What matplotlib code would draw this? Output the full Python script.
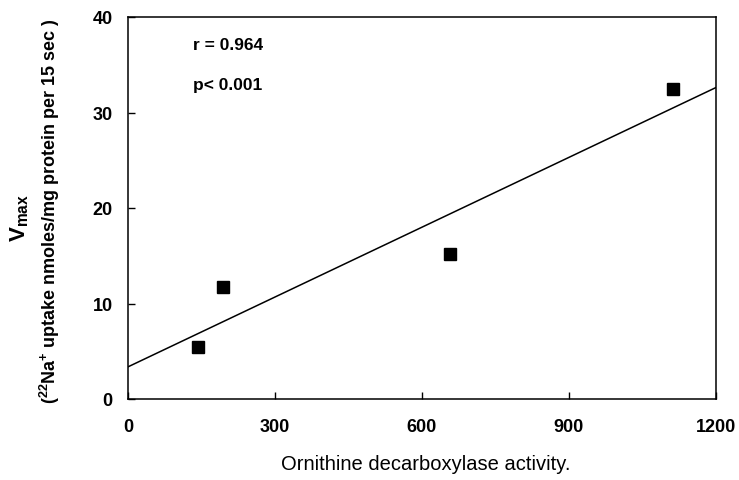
import numpy as np
import matplotlib
matplotlib.use("Agg")
import matplotlib.pyplot as plt

odc_activity = [143, 194, 657, 1112]
vmax_values = [5.4, 11.7, 15.2, 32.5]
x_ticks = [0, 300, 600, 900, 1200]
y_ticks = [0, 10, 20, 30, 40]

plt.rcParams['font.family'] = ['Liberation Sans', 'DejaVu Sans']
plt.rcParams['mathtext.fontset'] = 'custom'
plt.rcParams['mathtext.rm'] = 'Liberation Sans'
plt.rcParams['mathtext.bf'] = 'Liberation Sans:bold'

fig = plt.figure(figsize=(7.39, 4.81), dpi=100)
ax = fig.add_axes([128/739, 1-400/481, (716-128)/739, (400-18)/481])

slope, intercept = np.polyfit(odc_activity, vmax_values, 1)
xl = np.array([0, 1200])
ax.plot(xl, intercept + slope*xl, color='black', lw=1.1)
ax.plot(odc_activity, vmax_values, 's', color='black', ms=8)

ax.set_xlim(0, 1200)
ax.set_ylim(0, 40)
ax.set_xticks(x_ticks)
ax.set_yticks(y_ticks)
ax.tick_params(direction='in', length=5, width=1, labelsize=13)
ax.tick_params(axis='x', pad=14)
ax.tick_params(axis='y', pad=11)
for lab in ax.get_xticklabels() + ax.get_yticklabels():
    lab.set_fontweight('bold')
for s in ax.spines.values():
    s.set_linewidth(1.1)

ax.text(0.11, 0.927, 'r = 0.964', transform=ax.transAxes, fontsize=12.5, fontweight='bold', va='center')
ax.text(0.11, 0.822, 'p< 0.001', transform=ax.transAxes, fontsize=12.5, fontweight='bold', va='center')

fig.text(0.5*(278+573)/739, 1-465/481, 'Ornithine decarboxylase activity.', ha='center', va='center', fontsize=14.5)
fig.text(20/739, 1-218/481, r'$\mathbf{V_{max}}$', rotation=90, ha='center', va='center', fontsize=16)
fig.text(50/739, 1-211/481, r'($\mathbf{^{22}Na^{+}}$ uptake nmoles/mg protein per 15 sec )', rotation=90,
         ha='center', va='center', fontsize=13, fontweight='bold')

fig.savefig('out.png', dpi=100)
